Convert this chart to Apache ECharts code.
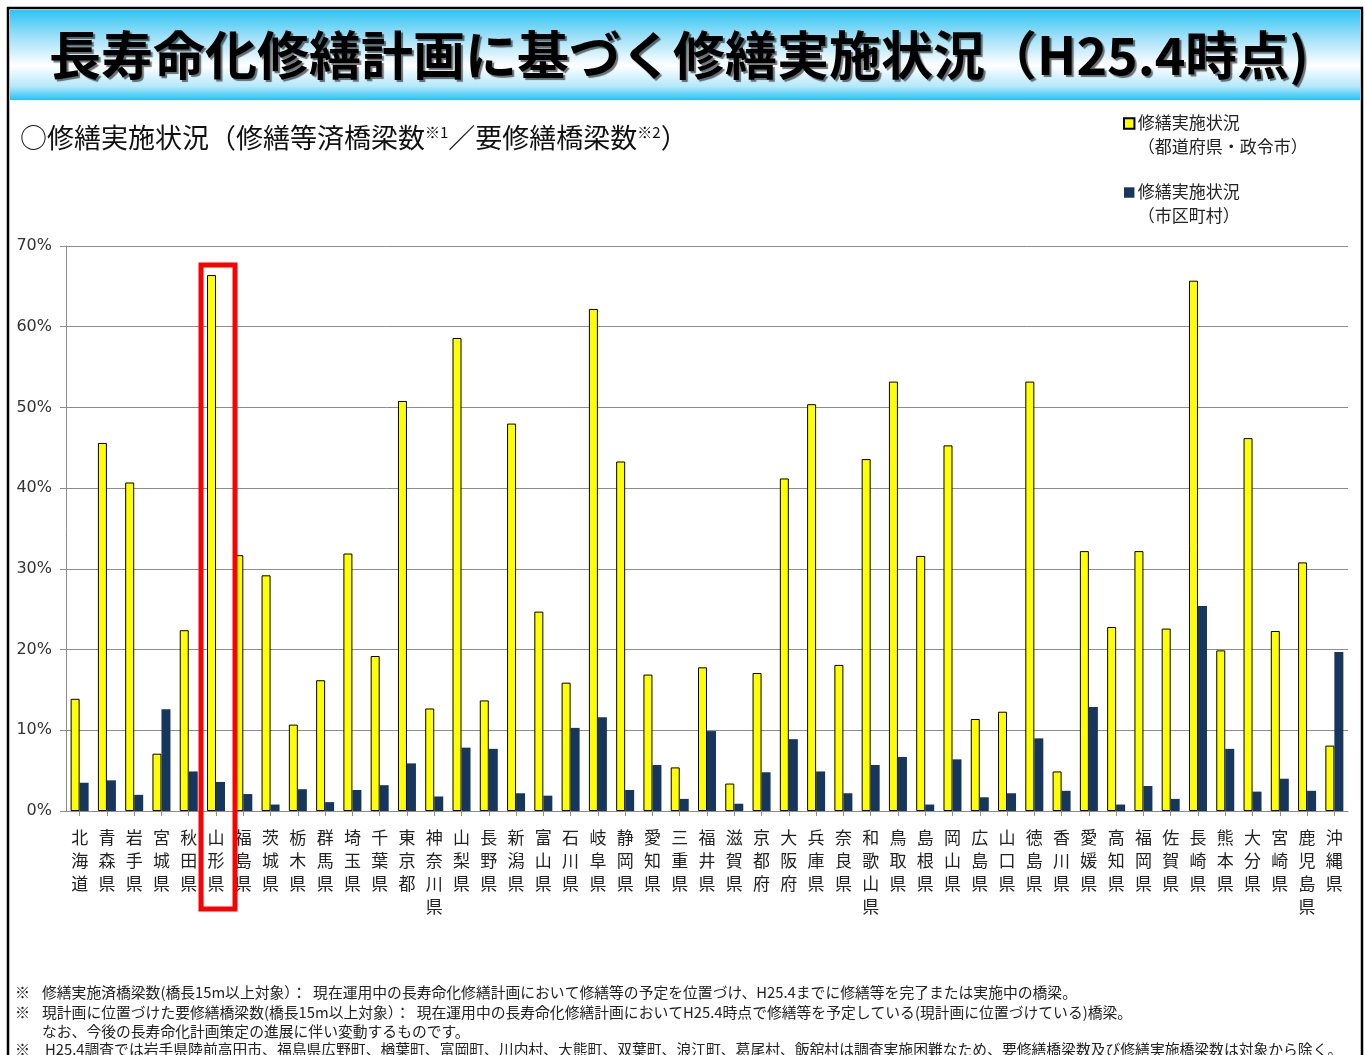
<!DOCTYPE html>
<html>
<head>
<meta charset="utf-8">
<script src="https://cdn.jsdelivr.net/npm/echarts@6/dist/echarts.min.js"></script>
<style>
  html, body { margin: 0; padding: 0; background: #fff; }
  #chart { width: 1366px; height: 1055px; }
</style>
</head>
<body>
<div id="chart"></div>
<script>
// 都道府県
const categories = [
  '北海道', '青森県', '岩手県', '宮城県', '秋田県', '山形県', '福島県', '茨城県', '栃木県', '群馬県',
  '埼玉県', '千葉県', '東京都', '神奈川県', '山梨県', '長野県', '新潟県', '富山県', '石川県', '岐阜県',
  '静岡県', '愛知県', '三重県', '福井県', '滋賀県', '京都府', '大阪府', '兵庫県', '奈良県', '和歌山県',
  '鳥取県', '島根県', '岡山県', '広島県', '山口県', '徳島県', '香川県', '愛媛県', '高知県', '福岡県',
  '佐賀県', '長崎県', '熊本県', '大分県', '宮崎県', '鹿児島県', '沖縄県'
];

// 修繕実施状況（都道府県・政令市） %
const prefValues = [
  13.9, 45.6, 40.7, 7.1, 22.4, 66.4, 31.7, 29.2, 10.7, 16.2,
  31.9, 19.2, 50.8, 12.7, 58.6, 13.7, 48.0, 24.7, 15.9, 62.2,
  43.3, 16.9, 5.4, 17.8, 3.4, 17.1, 41.2, 50.4, 18.1, 43.6,
  53.2, 31.6, 45.3, 11.4, 12.3, 53.2, 4.9, 32.2, 22.8, 32.2,
  22.6, 65.7, 19.9, 46.2, 22.3, 30.8, 8.1
];

// 修繕実施状況（市区町村） %
const muniValues = [
  3.5, 3.8, 2.0, 12.6, 4.9, 3.6, 2.1, 0.8, 2.7, 1.1,
  2.6, 3.2, 5.9, 1.8, 7.85, 7.7, 2.2, 1.9, 10.3, 11.6,
  2.6, 5.7, 1.5, 9.9, 0.9, 4.8, 8.9, 4.9, 2.2, 5.7,
  6.7, 0.8, 6.4, 1.7, 2.2, 9.0, 2.5, 12.9, 0.8, 3.1,
  1.5, 25.4, 7.7, 2.4, 4.0, 2.5, 19.7
];

const seriesNames = ['修繕実施状況（都道府県・政令市）', '修繕実施状況（市区町村）'];
const highlightCategory = '山形県';

const titleText = '長寿命化修繕計画に基づく修繕実施状況（H25.4時点)';
const notes = [
  ['※', '修繕実施済橋梁数(橋長15m以上対象）：  現在運用中の長寿命化修繕計画において修繕等の予定を位置づけ、H25.4までに修繕等を完了または実施中の橋梁。'],
  ['※', '現計画に位置づけた要修繕橋梁数(橋長15m以上対象）：  現在運用中の長寿命化修繕計画においてH25.4時点で修繕等を予定している(現計画に位置づけている)橋梁。'],
  ['', 'なお、今後の長寿命化計画策定の進展に伴い変動するものです。'],
  ['※', 'H25.4調査では岩手県陸前高田市、福島県広野町、楢葉町、富岡町、川内村、大熊町、双葉町、浪江町、葛尾村、飯舘村は調査実施困難なため、要修繕橋梁数及び修繕実施橋梁数は対象から除く。']
];

const FONT = '"Noto Sans CJK JP", "Noto Sans", sans-serif';

const chart = echarts.init(document.getElementById('chart'));

// 凡例アイコン：1行目の高さに四角を置く（moveTo で枠を広げる）
const legendIcon = 'path://M0,0 M0,7h10v10h-10z M10,46';

const graphics = [
  // 外枠
  {
    type: 'rect',
    shape: { x: 8, y: 8, width: 1354, height: 1060 },
    style: { fill: 'none', stroke: '#000', lineWidth: 2.5 },
    z: 10
  },
  // タイトル帯
  {
    type: 'rect',
    shape: { x: 10, y: 10, width: 1350, height: 90 },
    style: {
      fill: new echarts.graphic.LinearGradient(0, 0, 0, 1, [
        { offset: 0, color: '#2cc4f2' },
        { offset: 0.3, color: '#9fe0f8' },
        { offset: 0.62, color: '#ffffff' },
        { offset: 0.85, color: '#b4e8fa' },
        { offset: 1, color: '#22c2f2' }
      ])
    },
    z: 1
  },
  {
    type: 'text',
    x: 679,
    y: 55,
    style: {
      text: titleText,
      font: 'bold 52px ' + FONT,
      fill: '#000',
      align: 'center',
      verticalAlign: 'middle',
      textShadowColor: 'rgba(0,0,0,0.55)',
      textShadowOffsetX: 2,
      textShadowOffsetY: 2,
      textShadowBlur: 1
    },
    z: 2
  },
  // サブタイトル
  {
    type: 'text',
    x: 20,
    y: 138,
    style: {
      text: '○修繕実施状況（修繕等済橋梁数{sup|※1}／要修繕橋梁数{sup|※2}）',
      font: '27px ' + FONT,
      fill: '#111',
      verticalAlign: 'middle',
      rich: {
        sup: { fontSize: 15, fontFamily: FONT, fill: '#111', verticalAlign: 'top', padding: [0, 0, 12, 0] }
      }
    },
    z: 2
  }
];

// 注記
const noteY = [992, 1012, 1031, 1049];
notes.forEach((n, i) => {
  if (n[0]) {
    graphics.push({
      type: 'text', x: 15, y: noteY[i],
      style: { text: n[0], font: '15px ' + FONT, fill: '#222', verticalAlign: 'middle' }, z: 2
    });
  }
  graphics.push({
    type: 'text', x: i === 3 ? 45 : 42, y: noteY[i],
    style: { text: n[1], font: '14.8px ' + FONT, fill: '#222', verticalAlign: 'middle' }, z: 2
  });
});

const option = {
  animation: false,
  backgroundColor: '#fff',
  textStyle: { fontFamily: FONT },
  grid: { left: 66, right: 18, top: 246, bottom: 244 },
  legend: {
    left: 1118,
    top: 105,
    orient: 'vertical',
    selectedMode: false,
    itemWidth: 11,
    itemHeight: 48,
    itemGap: 20,
    icon: legendIcon,
    data: seriesNames,
    formatter: (name) => name.replace('（', '\n（'),
    textStyle: { fontSize: 17, lineHeight: 24, color: '#222', fontFamily: FONT, padding: [0, 0, 0, -2] }
  },
  xAxis: {
    type: 'category',
    data: categories,
    axisLine: { lineStyle: { color: '#8c8c8c' } },
    axisTick: { show: true, alignWithLabel: true, length: 5, lineStyle: { color: '#8c8c8c' } },
    axisLabel: {
      interval: 0,
      margin: 15,
      fontSize: 17,
      lineHeight: 23,
      color: '#222',
      verticalAlign: 'top',
      formatter: (v) => v.split('').join('\n')
    }
  },
  yAxis: {
    type: 'value',
    min: 0,
    max: 70,
    interval: 10,
    axisLine: { show: true, lineStyle: { color: '#8c8c8c' } },
    axisTick: { show: true, length: 6, lineStyle: { color: '#8c8c8c' } },
    axisLabel: {
      formatter: '{value}%',
      fontSize: 16,
      margin: 14,
      color: '#333',
      fontFamily: '"DejaVu Sans", sans-serif'
    },
    splitLine: { lineStyle: { color: '#8c8c8c', width: 1 } }
  },
  series: [
    {
      name: seriesNames[0],
      type: 'bar',
      data: prefValues,
      barWidth: 9,
      barGap: '0%',
      itemStyle: { color: '#ffff00', borderColor: '#000', borderWidth: 1 }
    },
    {
      name: seriesNames[1],
      type: 'bar',
      data: muniValues,
      barWidth: 9,
      itemStyle: { color: '#17365d' }
    }
  ],
  graphic: graphics
};

chart.setOption(option);

// 山形県を囲む赤枠（軸のスケールから位置を求める）
const idx = categories.indexOf(highlightCategory);
const cx = chart.convertToPixel({ xAxisIndex: 0 }, highlightCategory);
const topY = chart.convertToPixel({ yAxisIndex: 0 }, prefValues[idx]) - 10;
const zeroY = chart.convertToPixel({ yAxisIndex: 0 }, 0);
chart.setOption({
  graphic: graphics.concat([{
    type: 'rect',
    shape: { x: cx - 15, y: topY, width: 34, height: zeroY + 98 - topY },
    style: { fill: 'none', stroke: '#ff0000', lineWidth: 5 },
    z: 20
  }])
});
</script>
</body>
</html>
